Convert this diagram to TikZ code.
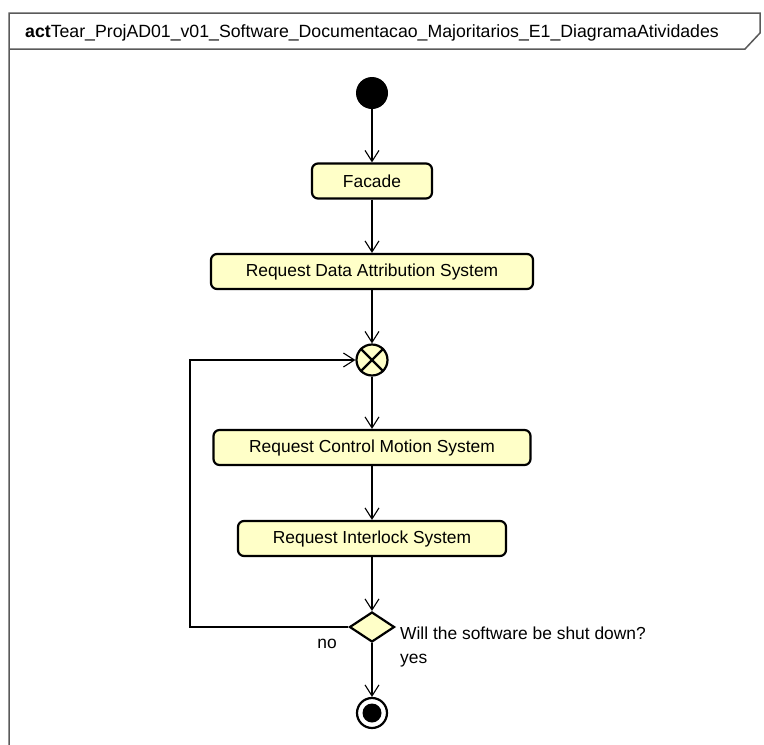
\documentclass[tikz,border=0pt]{standalone}
\usepackage{fontspec}
\setmainfont{Liberation Sans}
\usetikzlibrary{arrows.meta,shapes.geometric}
\definecolor{actfill}{HTML}{FFFFC8}
\definecolor{framegray}{HTML}{5A5A5A}
\begin{document}
\begin{tikzpicture}[x=1pt,y=-1pt,
  every node/.style={font=\fontsize{17.4}{20}\selectfont},
  action/.style={draw=black, line width=2.2pt, fill=actfill, rounded corners=6pt,
    minimum height=35pt, inner sep=0pt},
  flow/.style={draw=black, line width=1.1pt,
    -{Straight Barb[length=11pt,width=14pt,line width=1.1pt]}},
  label/.style={inner sep=0pt}]
\useasboundingbox (0,0) rectangle (764,745);

% diagram frame with its name tab
\draw[framegray, line width=1.5pt] (9,760) -- (9,13) -- (760,13) -- (760,33) -- (745,49) -- (9,49);
\node[label, anchor=base west, font=\fontsize{17.7}{20}\selectfont] (title) at (25,37)
  {\textbf{act}Tear\_ProjAD01\_v01\_Software\_Documentacao\_Majoritarios\_E1\_DiagramaAtividades};

% nodes
\node[circle, fill=black, minimum size=32pt, inner sep=0pt] (start) at (372,93) {};
\node[action, minimum width=120pt] (facade) at (372,181) {Facade};
\node[action, minimum width=322pt] (rdas) at (372,271.5) {Request Data Attribution System};
\node[circle, draw=black, line width=2.2pt, fill=actfill, minimum size=31pt, inner sep=0pt] (merge) at (372,360) {};
\draw[line width=2.2pt] (merge.45) -- (merge.225) (merge.135) -- (merge.315);
\node[action, minimum width=317pt] (rcms) at (372,447.5) {Request Control Motion System};
\node[action, minimum width=268pt] (ris) at (372,538.5) {Request Interlock System};
\node[diamond, draw=black, line width=2.2pt, fill=actfill, minimum width=45pt, minimum height=30pt, inner sep=0pt] (dec) at (372,627) {};
\node[circle, draw=black, line width=2.2pt, fill=white, minimum size=30pt, inner sep=0pt] (final) at (372,713) {};
\node[circle, fill=black, minimum size=19pt, inner sep=0pt] (finaldot) at (372,713) {};

% loop corners
\coordinate (lb) at (190,627);
\coordinate (lt) at (190,360);

% flows
\draw[flow] (start) -- (facade);
\draw[flow] (facade) -- (rdas);
\draw[flow] (rdas) -- (merge);
\draw[flow] (merge) -- (rcms);
\draw[flow] (rcms) -- (ris);
\draw[flow] (ris) -- (dec);
\draw[flow] (dec) -- (final);
\draw[flow] (dec.west) -- (lb) -- (lt) -- (merge.west);

% guard and decision texts
\node[label, anchor=west] (question) at (400,633) {Will the software be shut down?};
\node[label] (no) at (327,644) {no};
\node[label, anchor=west] (yes) at (400,661) {yes};
\end{tikzpicture}
\end{document}
